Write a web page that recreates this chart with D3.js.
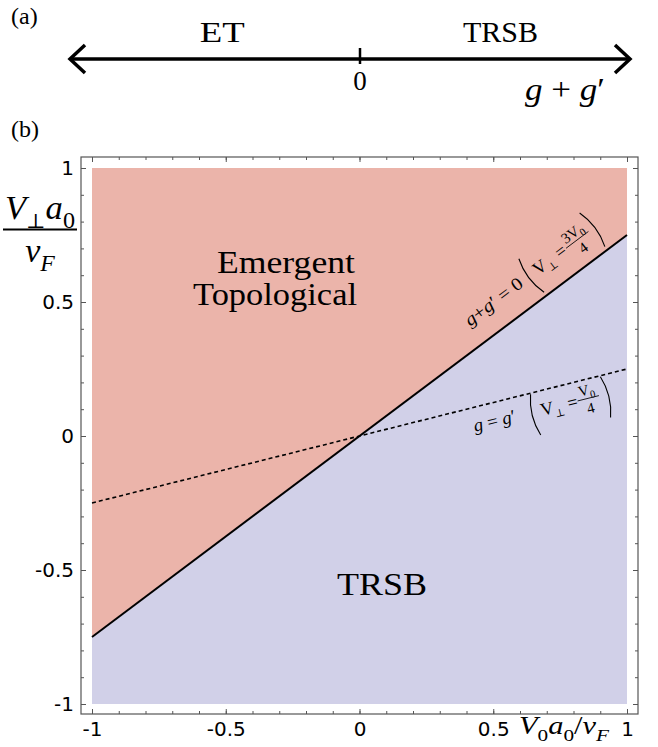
<!DOCTYPE html>
<html>
<head>
<meta charset="utf-8">
<script src="https://cdn.jsdelivr.net/npm/d3@7"></script>
<style>
  body { margin: 0; background: #fff; }
  svg text { font-family: "Liberation Serif", "DejaVu Serif", serif; fill: #000; }
  .tick text { font-family: "DejaVu Sans", sans-serif; }
</style>
</head>
<body>
<div id="chart"></div>
<script>
// ---- data ----
const xTickValues = [-1, -0.5, 0, 0.5, 1];
const yTickValues = [-1, -0.5, 0, 0.5, 1];
const tickLabels = ["-1", "-0.5", "0", "0.5", "1"];

// phase boundaries (V0 a0/vF, V_perp a0/vF)
const solidBoundary = [[-1, -0.75], [1, 0.75]];   // g + g' = 0, V_perp = 3V0/4
const dashedBoundary = [[-1, -0.25], [1, 0.25]];  // g = g',     V_perp = V0/4

// regions
const etRegion = [[-1, -0.75], [1, 0.75], [1, 1], [-1, 1]];
const trsbRegion = [[-1, -1], [1, -1], [1, 0.75], [-1, -0.75]];

// panel (a) number line
const numberLineDomain = [-1, 0, 1];
const numberLineTicks = [0];
const phaseNames = ["ET", "TRSB"];
const phaseAt = [-0.475, 0.52];

// ---- setup ----
const W = 658, H = 747;
const svg = d3.select("#chart").append("svg")
    .attr("width", W)
    .attr("height", H);

const frame = {left: 81, top: 157, right: 638, bottom: 714};

const x = d3.scaleLinear().domain([-1, 1]).range([92, 627]);
const y = d3.scaleLinear().domain([-1, 1]).range([704, 168]);

// little helper for math-ish text with subscripts
function mathText(parent, px, py, size, parts, anchor) {
    const t = parent.append("text")
        .attr("x", px)
        .attr("y", py)
        .attr("font-size", size)
        .attr("text-anchor", anchor || "start");
    let shift = 0;
    parts.forEach(p => {
        const s = p.sub ? size * 0.26 : 0;
        t.append("tspan")
            .attr("dy", s - shift)
            .attr("font-size", p.sub ? size * (p.small || 0.7) : size)
            .attr("font-style", p.it ? "italic" : "normal")
            .text(p.t);
        shift = s;
    });
    return t;
}

// thin tall parenthesis
function paren(g, px, top, bottom, open) {
    const bow = open ? -7 : 7;
    const mid = (top + bottom) / 2;
    g.append("path")
        .attr("d", `M${px},${top} Q${px + bow},${mid} ${px},${bottom}`)
        .attr("fill", "none")
        .attr("stroke", "#000")
        .attr("stroke-width", 1.1);
}

// ===============================================
// Panel (a): number line
// ===============================================
const nl = d3.scaleLinear().domain(numberLineDomain).range([70, 360, 630]);
const lineY = 59;

svg.append("text").attr("x", 11).attr("y", 24).attr("font-size", 24).text("(a)");

svg.append("line")
    .attr("x1", nl(-1) + 2).attr("x2", nl(1) - 2)
    .attr("y1", lineY).attr("y2", lineY)
    .attr("stroke", "#000").attr("stroke-width", 3.5);

// open arrow heads
svg.append("path")
    .attr("d", `M${nl(-1) + 15},${lineY - 14} L${nl(-1)},${lineY} L${nl(-1) + 15},${lineY + 14}`)
    .attr("fill", "none").attr("stroke", "#000").attr("stroke-width", 3.5);
svg.append("path")
    .attr("d", `M${nl(1) - 15},${lineY - 14} L${nl(1)},${lineY} L${nl(1) - 15},${lineY + 14}`)
    .attr("fill", "none").attr("stroke", "#000").attr("stroke-width", 3.5);

numberLineTicks.forEach(v => {
    svg.append("line")
        .attr("x1", nl(v)).attr("x2", nl(v))
        .attr("y1", lineY - 11).attr("y2", lineY + 5)
        .attr("stroke", "#000").attr("stroke-width", 2.5);
    svg.append("text")
        .attr("x", nl(v)).attr("y", 90)
        .attr("font-size", 27)
        .attr("text-anchor", "middle")
        .text(v);
});

phaseNames.forEach((name, i) => {
    const t = svg.append("text")
        .attr("x", nl(phaseAt[i])).attr("y", 42)
        .attr("font-size", 30)
        .attr("text-anchor", "middle")
        .text(name);
    if (name === "ET") {
        t.attr("textLength", 45).attr("lengthAdjust", "spacingAndGlyphs");
    }
});

mathText(svg, 525, 100, 32, [
    {t: "g", it: true}, {t: " + "}, {t: "g", it: true}, {t: "′"}
]).attr("textLength", 80).attr("lengthAdjust", "spacingAndGlyphs");

// ===============================================
// Panel (b): phase diagram
// ===============================================
svg.append("text").attr("x", 11).attr("y", 137).attr("font-size", 24).text("(b)");

const area = d3.line().x(d => x(d[0])).y(d => y(d[1])).curve(d3.curveLinearClosed);

svg.append("path")
    .datum(etRegion)
    .attr("d", area)
    .attr("fill", "#ebb4aa");

svg.append("path")
    .datum(trsbRegion)
    .attr("d", area)
    .attr("fill", "#d1d0e8");

const line = d3.line().x(d => x(d[0])).y(d => y(d[1]));

svg.append("path")
    .datum(solidBoundary)
    .attr("d", line)
    .attr("fill", "none")
    .attr("stroke", "#000")
    .attr("stroke-width", 2);

svg.append("path")
    .datum(dashedBoundary)
    .attr("d", line)
    .attr("fill", "none")
    .attr("stroke", "#000")
    .attr("stroke-width", 1.6)
    .attr("stroke-dasharray", "4,3");

// frame
svg.append("rect")
    .attr("x", frame.left).attr("y", frame.top)
    .attr("width", frame.right - frame.left)
    .attr("height", frame.bottom - frame.top)
    .attr("fill", "none")
    .attr("stroke", "#555")
    .attr("stroke-width", 1.2);

// axes with inward ticks
function styleAxis(g) {
    g.select(".domain").remove();
    g.selectAll(".tick line").attr("stroke", "#555");
    g.selectAll(".tick text").attr("font-size", 20).attr("fill", "#000");
}

svg.append("g")
    .attr("transform", `translate(${frame.left},0)`)
    .call(d3.axisLeft(y).tickValues(yTickValues).tickSize(-5).tickPadding(7)
        .tickFormat((d, i) => tickLabels[i]))
    .call(styleAxis);
svg.append("g")
    .attr("transform", `translate(${frame.left},0)`)
    .call(d3.axisLeft(y).ticks(20).tickSize(-3).tickFormat(""))
    .call(styleAxis);

svg.append("g")
    .attr("transform", `translate(${frame.right},0)`)
    .call(d3.axisRight(y).tickValues(yTickValues).tickSize(-5).tickFormat(""))
    .call(styleAxis);
svg.append("g")
    .attr("transform", `translate(${frame.right},0)`)
    .call(d3.axisRight(y).ticks(20).tickSize(-3).tickFormat(""))
    .call(styleAxis);

svg.append("g")
    .attr("transform", `translate(0,${frame.bottom})`)
    .call(d3.axisBottom(x).tickValues(xTickValues).tickSize(-5).tickPadding(8)
        .tickFormat((d, i) => tickLabels[i]))
    .call(styleAxis);
svg.append("g")
    .attr("transform", `translate(0,${frame.bottom})`)
    .call(d3.axisBottom(x).ticks(20).tickSize(-3).tickFormat(""))
    .call(styleAxis);

svg.append("g")
    .attr("transform", `translate(0,${frame.top})`)
    .call(d3.axisTop(x).tickValues(xTickValues).tickSize(-5).tickFormat(""))
    .call(styleAxis);
svg.append("g")
    .attr("transform", `translate(0,${frame.top})`)
    .call(d3.axisTop(x).ticks(20).tickSize(-3).tickFormat(""))
    .call(styleAxis);

// y-axis label: V_perp a0 / vF
mathText(svg, 40, 219, 34, [
    {t: "V", it: true}, {t: "⊥", sub: true, small: 0.6}, {t: "a", it: true}, {t: "0", sub: true}
], "middle").attr("textLength", 70).attr("lengthAdjust", "spacingAndGlyphs");
svg.append("rect")
    .attr("x", 3).attr("y", 228.5).attr("width", 74).attr("height", 2)
    .attr("fill", "#000");
mathText(svg, 40, 262, 34, [
    {t: "v", it: true}, {t: "F", it: true, sub: true}
], "middle");

// x-axis label
mathText(svg, 519, 734, 25, [
    {t: "V", it: true}, {t: "0", sub: true}, {t: "a", it: true}, {t: "0", sub: true},
    {t: "/"}, {t: "v", it: true}, {t: "F", it: true, sub: true}
]).attr("textLength", 90).attr("lengthAdjust", "spacingAndGlyphs");

// region labels
svg.append("text").attr("x", 217).attr("y", 273).attr("font-size", 31)
    .attr("textLength", 138).attr("lengthAdjust", "spacingAndGlyphs").text("Emergent");
svg.append("text").attr("x", 193).attr("y", 305).attr("font-size", 31)
    .attr("textLength", 164).attr("lengthAdjust", "spacingAndGlyphs").text("Topological");
svg.append("text").attr("x", 337).attr("y", 595).attr("font-size", 31)
    .attr("textLength", 90).attr("lengthAdjust", "spacingAndGlyphs").text("TRSB");

// rotated annotations along the boundaries
function annotationGroup(at, boundary) {
    const slope = (boundary[1][1] - boundary[0][1]) / (boundary[1][0] - boundary[0][0]);
    const ang = Math.atan2(y(slope) - y(0), x(1) - x(0)) * 180 / Math.PI;
    return svg.append("g")
        .attr("transform", `translate(${x(at)},${y(at * slope)}) rotate(${ang})`);
}

function fraction(g, cx, barY, half, num, den, size) {
    mathText(g, cx, barY - 3.5, size, num, "middle");
    g.append("line")
        .attr("x1", cx - half).attr("x2", cx + half)
        .attr("y1", barY).attr("y2", barY)
        .attr("stroke", "#000").attr("stroke-width", 0.8);
    mathText(g, cx, barY + 15, size, den, "middle");
}

const a1 = annotationGroup(0.46, solidBoundary);
mathText(a1, 0, -21, 18, [
    {t: "g", it: true}, {t: "+"}, {t: "g", it: true}, {t: "′ = 0"}
]).attr("textLength", 68).attr("lengthAdjust", "spacingAndGlyphs");
paren(a1, 80, -46, -4, true);
mathText(a1, 85, -21, 18, [{t: "V"}, {t: "⊥", sub: true, small: 0.6}, {t: " ="}]);
fraction(a1, 138, -26, 14, [{t: "3V"}, {t: "0", sub: true}], [{t: "4"}], 15);
paren(a1, 156, -46, -4, false);

const a2 = annotationGroup(0.41, dashedBoundary);
mathText(a2, 0, 24, 18, [
    {t: "g", it: true}, {t: " = "}, {t: "g", it: true}, {t: "′"}
]).attr("textLength", 43).attr("lengthAdjust", "spacingAndGlyphs");
paren(a2, 63, 1, 43, true);
mathText(a2, 69, 25, 18, [{t: "V"}, {t: "⊥", sub: true, small: 0.6}, {t: " ="}]);
fraction(a2, 118, 19, 11, [{t: "V"}, {t: "0", sub: true}], [{t: "4"}], 15);
paren(a2, 135, 1, 43, false);
</script>
</body>
</html>
